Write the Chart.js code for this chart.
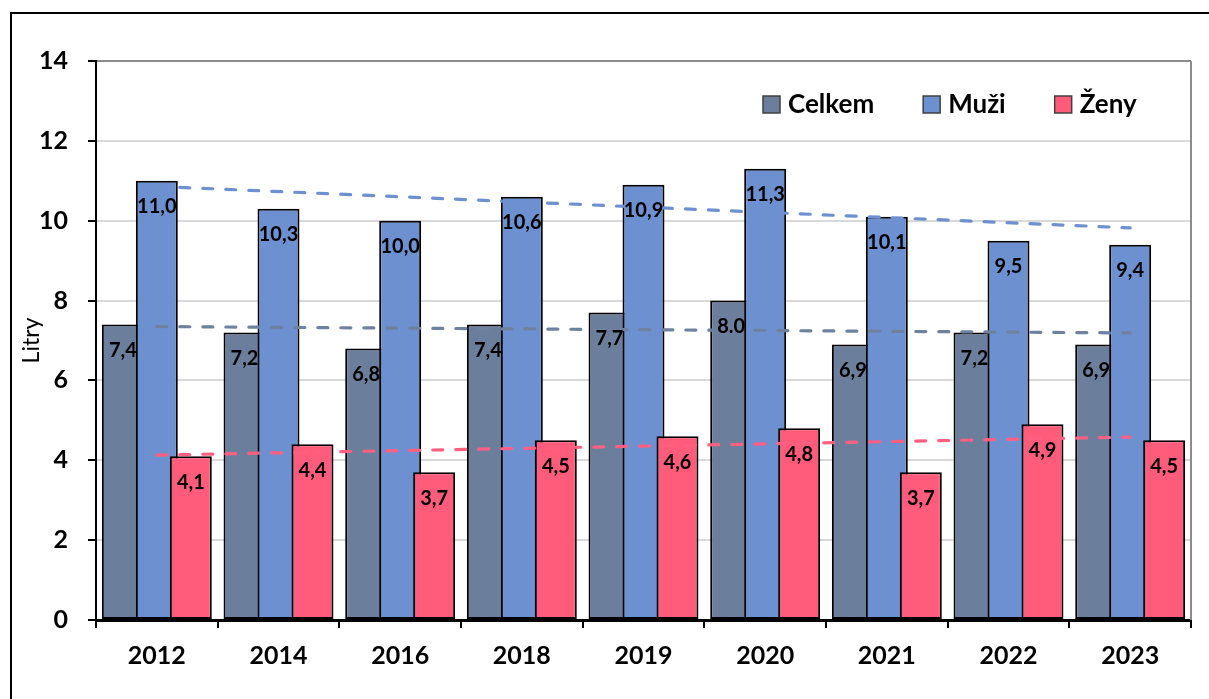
<!DOCTYPE html>
<html lang="cs">
<head>
    <meta charset="UTF-8">
    <title>Litry</title>
    <script src="https://cdn.jsdelivr.net/npm/chart.js"></script>
    <style>
        html, body { margin: 0; padding: 0; background: #fff; overflow: hidden; }
        #frame { position: absolute; left: 10px; top: 12px; width: 1300px; height: 800px; border: 2px solid #000; }
        #wrap { position: absolute; left: 0; top: 0; width: 1209px; height: 699px; }
    </style>
</head>
<body>
<div id="frame"></div>
<div id="wrap"><canvas id="chart"></canvas></div>

<script>
    // data
    const years = ['2012', '2014', '2016', '2018', '2019', '2020', '2021', '2022', '2023'];
    const celkem = [7.4, 7.2, 6.8, 7.4, 7.7, 8.0, 6.9, 7.2, 6.9];
    const muzi = [11.0, 10.3, 10.0, 10.6, 10.9, 11.3, 10.1, 9.5, 9.4];
    const zeny = [4.1, 4.4, 3.7, 4.5, 4.6, 4.8, 3.7, 4.9, 4.5];
    const seriesNames = ['Celkem', 'Muži', 'Ženy'];

    // trend lines (value at 2012, value at 2023)
    const trendCelkem = [7.35, 7.19];
    const trendMuzi = [10.86, 9.82];
    const trendZeny = [4.13, 4.58];

    const yMin = 0, yMax = 14, yStep = 2;

    const barColors = ['#6b7f9d', '#6d90d0', '#ff5b7b'];
    const trendColors = ['#6e819e', '#6d90d0', '#ff5f80'];

    const fmt = v => v.toFixed(1).replace('.', ',');
    const labelTexts = [celkem.map(fmt), muzi.map(fmt), zeny.map(fmt)];
    labelTexts[0][5] = '8.0'; // the source writes this one with a dot

    // only the two ends of a trend line, the rest is spanned
    function trendData(ends) {
        return years.map((y, i) => i === 0 ? ends[0] : (i === years.length - 1 ? ends[1] : null));
    }

    const FONT = 'Lato, "Open Sans", sans-serif';

    function barSet(label, data, color) {
        return {
            type: 'bar',
            label: label,
            data: data,
            backgroundColor: color,
            borderColor: '#000',
            borderWidth: 2,
            borderSkipped: false,
            categoryPercentage: 0.838,
            barPercentage: 1.235
        };
    }

    function trendSet(data, color) {
        return {
            type: 'line',
            label: 'trend',
            data: trendData(data),
            borderColor: color,
            borderWidth: 3.2,
            borderDash: [10, 13],
            borderCapStyle: 'round',
            pointRadius: 0,
            spanGaps: true,
            fill: false
        };
    }

    // bars left to right (right one covers the left), then trend lines, then labels
    const drawOrder = {
        id: 'drawOrder',
        beforeDatasetsDraw(chart) {
            const ctx = chart.ctx;
            const a = chart.chartArea;
            // plot border on the right
            ctx.save();
            ctx.strokeStyle = '#8c8c8c';
            ctx.lineWidth = 2;
            ctx.beginPath();
            ctx.moveTo(a.right, a.top);
            ctx.lineTo(a.right, a.bottom);
            ctx.stroke();
            ctx.restore();

            const metas = chart.getSortedVisibleDatasetMetas();
            metas.filter(m => m.type === 'bar').sort((p, q) => p.index - q.index).forEach(m => m.controller.draw());
            metas.filter(m => m.type === 'line').forEach(m => m.controller.draw());

            ctx.save();
            ctx.font = 'bold 20px ' + FONT;
            ctx.fillStyle = '#000';
            ctx.textAlign = 'center';
            ctx.textBaseline = 'middle';
            metas.filter(m => m.type === 'bar').forEach(m => {
                m.data.forEach((el, i) => {
                    ctx.fillText(labelTexts[m.index][i], el.x, el.y + 26);
                });
            });
            ctx.restore();
            return false;
        },
        afterDraw(chart) {
            // legend inside the plot, top right
            const ctx = chart.ctx;
            const a = chart.chartArea;
            ctx.save();
            ctx.font = 'bold 26px ' + FONT;
            ctx.textBaseline = 'middle';
            ctx.textAlign = 'left';
            let x = a.right - 428;
            const y = 104;
            seriesNames.forEach((name, i) => {
                ctx.fillStyle = barColors[i];
                ctx.fillRect(x, y - 8, 17, 17);
                ctx.strokeStyle = '#404040';
                ctx.lineWidth = 1.5;
                ctx.strokeRect(x, y - 8, 17, 17);
                ctx.fillStyle = '#000';
                ctx.fillText(name, x + 25, y + 1);
                x += 25 + ctx.measureText(name).width + 49;
            });
            ctx.restore();
        }
    };

    const ctx = document.getElementById('chart').getContext('2d');
    const chart = new Chart(ctx, {
        data: {
            labels: years,
            datasets: [
                barSet(seriesNames[0], celkem, barColors[0]),
                barSet(seriesNames[1], muzi, barColors[1]),
                barSet(seriesNames[2], zeny, barColors[2]),
                trendSet(trendCelkem, trendColors[0]),
                trendSet(trendMuzi, trendColors[1]),
                trendSet(trendZeny, trendColors[2])
            ]
        },
        options: {
            responsive: true,
            maintainAspectRatio: false,
            animation: false,
            layout: { padding: { left: 0, top: 61, right: 18, bottom: 0 } },
            plugins: {
                legend: { display: false },
                tooltip: { enabled: false }
            },
            scales: {
                x: {
                    grid: {
                        offset: true,
                        drawOnChartArea: false,
                        tickLength: 8,
                        tickColor: '#000',
                        lineWidth: 2
                    },
                    border: { color: '#000', width: 3 },
                    ticks: {
                        color: '#000',
                        padding: 13,
                        maxRotation: 0,
                        font: { family: FONT, size: 25, weight: 'bold' }
                    },
                    afterFit(scale) { scale.height = 79; }
                },
                y: {
                    min: yMin,
                    max: yMax,
                    ticks: {
                        stepSize: yStep,
                        color: '#000',
                        padding: 20,
                        font: { family: FONT, size: 25, weight: 'bold' }
                    },
                    grid: {
                        color: c => c.tick && c.tick.value === yMax ? '#8c8c8c' : '#d9d9d9',
                        lineWidth: 2,
                        tickLength: 8,
                        tickColor: '#000'
                    },
                    border: { color: '#000', width: 2 },
                    title: {
                        display: true,
                        text: 'Litry',
                        color: '#000',
                        padding: { top: 18, bottom: 0 },
                        font: { family: FONT, size: 23, weight: 'normal' }
                    },
                    afterFit(scale) { scale.width = 96; }
                }
            }
        },
        plugins: [drawOrder]
    });
</script>
</body>
</html>
